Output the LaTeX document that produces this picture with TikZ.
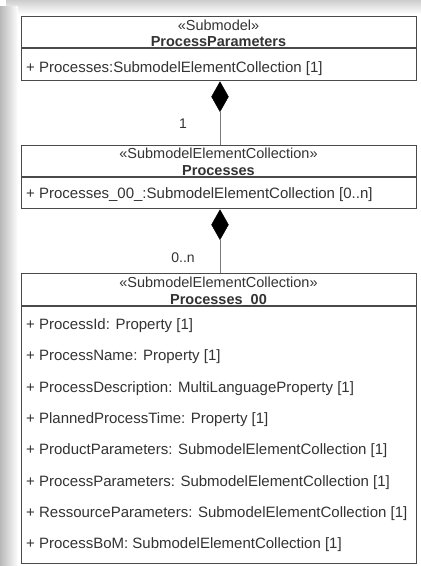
\documentclass[tikz,border=0pt]{standalone}
\usepackage{fontspec}
\setmainfont{Liberation Sans}
\usetikzlibrary{shapes.geometric}
\definecolor{linegray}{HTML}{4A4A4A}
\definecolor{txtgray}{HTML}{333333}
\definecolor{conngray}{HTML}{7A7A7A}
\definecolor{shadegray}{HTML}{B8B8B8}
\begin{document}
\begin{tikzpicture}[x=1pt,y=-1pt,
  umlbox/.style={draw=linegray, line width=1.1pt, fill=white, rectangle, inner sep=0pt, anchor=north west, minimum width=395pt},
  divider/.style={draw=linegray, line width=1.1pt},
  stereo/.style={text=txtgray, anchor=base, inner sep=0pt, font=\fontsize{14.5}{17}\selectfont},
  cname/.style={text=txtgray, anchor=base, inner sep=0pt, font=\fontsize{14.5}{17}\selectfont\bfseries},
  attr/.style={text=txtgray, anchor=base west, inner sep=0pt, font=\fontsize{15}{18}\selectfont},
  compo/.style={diamond, fill=black, draw=black, line width=0.4pt, minimum width=17pt, minimum height=30pt, inner sep=0pt, anchor=north},
  conn/.style={draw=conngray, line width=0.8pt},
  mult/.style={text=txtgray, inner sep=0pt, font=\fontsize{14}{16}\selectfont}]
\useasboundingbox (0,0) rectangle (421,566);
\fill[white] (0,0) rectangle (421,566);
% shadow bands
\shade[top color=shadegray!70, bottom color=white] (6,0) rectangle (421,14);
\shade[left color=shadegray, right color=white] (0,6) rectangle (18,566);
\fill[white] (18,14) rectangle (421,566);

% box 1
\node[umlbox, minimum height=64pt] (pp) at (21,16) {};
\draw[divider] (21,48) -- (416,48);
\node[stereo] (pps) at (218.5,30.5) {«Submodel»};
\node[cname] (ppn) at (218.5,46.5) {ProcessParameters};
\node[attr] (ppa) at (26,72.5) {+ Processes:SubmodelElementCollection [1]};

% box 2
\node[umlbox, minimum height=63pt] (pr) at (21,145) {};
\draw[divider] (21,177) -- (416,177);
\node[stereo] (prs) at (218.5,158.5) {«SubmodelElementCollection»};
\node[cname] (prn) at (218.5,175.5) {Processes};
\node[attr] (pra) at (26,198.5) {+ Processes\_00\_:SubmodelElementCollection [0..n]};

% box 3
\node[umlbox, minimum height=290pt] (p0) at (21,273) {};
\draw[divider] (21,306) -- (416,306);
\node[stereo] (p0s) at (218.5,287.5) {«SubmodelElementCollection»};
\node[cname] (p0n) at (218.5,304.5) {Processes\_00};
\node[attr] (a1) at (26,329.5) {+ ProcessId: Property [1]};
\node[attr] (a2) at (26,360.8) {+ ProcessName: Property [1]};
\node[attr] (a3) at (26,392.1) {+ ProcessDescription: MultiLanguageProperty [1]};
\node[attr] (a4) at (26,423.4) {+ PlannedProcessTime: Property [1]};
\node[attr] (a5) at (26,454.7) {+ ProductParameters: SubmodelElementCollection [1]};
\node[attr] (a6) at (26,486.0) {+ ProcessParameters: SubmodelElementCollection [1]};
\node[attr] (a7) at (26,517.3) {+ RessourceParameters: SubmodelElementCollection [1]};
\node[attr] (a8) at (26,548.6) {+ ProcessBoM: SubmodelElementCollection [1]};

% compositions
\node[compo] (d1) at (220,81.5) {};
\draw[conn] (d1.south) -- (d1.south |- pr.north);
\node[mult] (m1) at (183,124) {1};
\node[compo] (d2) at (220,209.5) {};
\draw[conn] (d2.south) -- (d2.south |- p0.north);
\node[mult] (m2) at (183,258) {0..n};
\end{tikzpicture}
\end{document}
